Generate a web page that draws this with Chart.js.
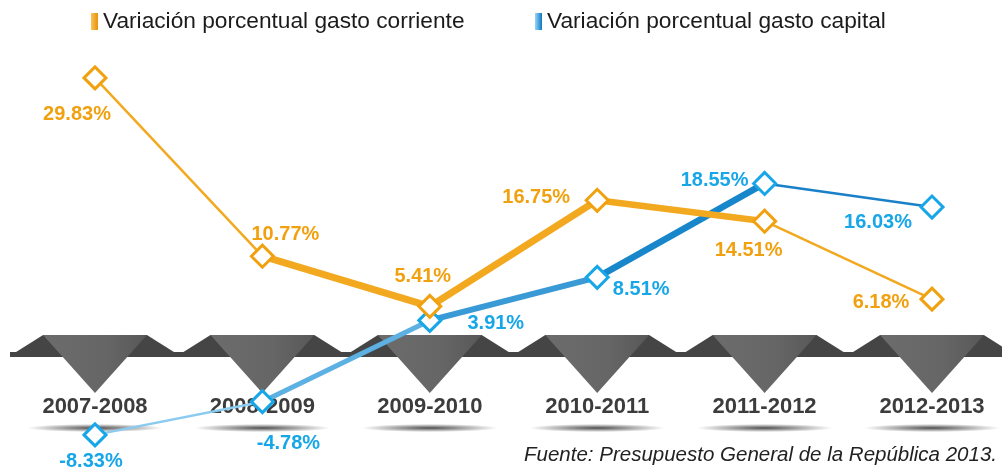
<!DOCTYPE html>
<html>
<head>
<meta charset="utf-8">
<script src="https://cdn.jsdelivr.net/npm/chart.js@4.4.1/dist/chart.umd.min.js"></script>
<style>
  body { margin: 0; background: #fff; }
  #wrap { position: relative; width: 1002px; height: 471px; overflow: hidden; font-family: 'Liberation Sans', Arial, sans-serif; }
  .legend { position: absolute; top: 7px; font-size: 22.7px; color: #1b1b1b; line-height: 27px; white-space: nowrap; }
  .legend .sw { display: inline-block; width: 7px; height: 17px; vertical-align: -2px; margin-right: 5px; }
  #source { position: absolute; right: 5px; top: 442px; font-size: 20.5px; font-style: italic; color: #222; white-space: nowrap; }
</style>
</head>
<body>
<div id="wrap">
  <canvas id="chart"></canvas>
  <div class="legend" style="left:91px"><span class="sw" style="background:linear-gradient(90deg,#f9c35a,#e8920a)"></span>Variación porcentual gasto corriente</div>
  <div class="legend" style="left:535px"><span class="sw" style="background:linear-gradient(90deg,#9ad6f7,#0a78c4)"></span>Variación porcentual gasto capital</div>
  <div id="source">Fuente: Presupuesto General de la República 2013.</div>
</div>
<script>
const periods = ['2007-2008', '2008-2009', '2009-2010', '2010-2011', '2011-2012', '2012-2013'];
const gastoCorriente = [29.83, 10.77, 5.41, 16.75, 14.51, 6.18];
const gastoCapital = [-8.33, -4.78, 3.91, 8.51, 18.55, 16.03];

const orange = '#f1a10f';
const blue = '#17a6e8';

// label offsets from each point, in px
const corrienteOffsets = [[-18, 37], [23, -22], [-7, -30], [-61, -3], [-16, 29], [-51, 3]];
const capitalOffsets = [[-4, 27], [26, 42], [66, 3], [44, 12], [-50, -3], [-54, 15]];

// segment looks
const corrienteWidths = [2.5, 7, 7, 6.5, 2.5];
const capitalWidths = [2.5, 5, 6, 6.5, 2.5];
const capitalColors = ['#8ccbf0', '#5cb0e2', '#3a9ad6', '#1786cb', '#1a80c8'];

const bandPlugin = {
    id: 'band',
    beforeDatasetsDraw(chart) {
        const ctx = chart.ctx;
        const x = chart.scales.x;
        const step = x.getPixelForValue(1) - x.getPixelForValue(0);
        const top = step * 0.31;
        const base = step * 0.5;
        ctx.save();
        ctx.fillStyle = '#454545';
        ctx.fillRect(10, 352, 992, 5);
        periods.forEach((p, i) => {
            const cx = x.getPixelForValue(i);
            ctx.fillStyle = '#454545';
            ctx.beginPath();
            ctx.moveTo(cx - base, 355);
            ctx.lineTo(cx - top, 335);
            ctx.lineTo(cx + top, 335);
            ctx.lineTo(cx + base, 355);
            ctx.closePath();
            ctx.fill();

            const g = ctx.createLinearGradient(cx - top, 0, cx + top, 0);
            g.addColorStop(0, '#6c6c6c');
            g.addColorStop(0.6, '#666');
            g.addColorStop(1, '#585858');
            ctx.fillStyle = g;
            ctx.beginPath();
            ctx.moveTo(cx - top, 335);
            ctx.lineTo(cx + top, 335);
            ctx.lineTo(cx, 393);
            ctx.closePath();
            ctx.fill();

            // soft shadow under the year
            ctx.save();
            ctx.translate(cx, 428);
            ctx.scale(1, 0.06);
            const rg = ctx.createRadialGradient(0, 0, 0, 0, 0, 68);
            rg.addColorStop(0, 'rgba(60,60,60,0.9)');
            rg.addColorStop(1, 'rgba(60,60,60,0)');
            ctx.fillStyle = rg;
            ctx.beginPath();
            ctx.arc(0, 0, 68, 0, Math.PI * 2);
            ctx.fill();
            ctx.restore();

            ctx.fillStyle = '#3c3c3c';
            ctx.font = "bold 22px 'Liberation Sans', Arial, sans-serif";
            ctx.textAlign = 'center';
            ctx.textBaseline = 'middle';
            ctx.fillText(p, cx, 407);
        });
        ctx.restore();
    }
};

const valueLabels = {
    id: 'valueLabels',
    afterDatasetsDraw(chart) {
        const ctx = chart.ctx;
        const sets = [[gastoCorriente, corrienteOffsets, orange], [gastoCapital, capitalOffsets, blue]];
        ctx.save();
        ctx.font = "bold 20px 'Liberation Sans', Arial, sans-serif";
        ctx.textAlign = 'center';
        ctx.textBaseline = 'middle';
        sets.forEach(([vals, offs, col], d) => {
            const meta = chart.getDatasetMeta(d);
            ctx.fillStyle = col;
            meta.data.forEach((pt, i) => {
                ctx.fillText(vals[i].toFixed(2) + '%', pt.x + offs[i][0], pt.y + offs[i][1]);
            });
        });
        ctx.restore();
    }
};

new Chart(document.getElementById('chart'), {
    type: 'line',
    data: {
        labels: periods,
        datasets: [
            {
                label: 'Variación porcentual gasto corriente',
                data: gastoCorriente,
                borderColor: '#f2a920',
                borderWidth: 7,
                segment: { borderWidth: c => corrienteWidths[c.p0DataIndex] },
                pointStyle: 'rectRot',
                pointRadius: 11,
                pointBorderWidth: 3,
                pointBorderColor: orange,
                pointBackgroundColor: '#fff',
                tension: 0,
                clip: false
            },
            {
                label: 'Variación porcentual gasto capital',
                data: gastoCapital,
                borderColor: '#3a9ad6',
                borderWidth: 6,
                segment: {
                    borderWidth: c => capitalWidths[c.p0DataIndex],
                    borderColor: c => capitalColors[c.p0DataIndex]
                },
                pointStyle: 'rectRot',
                pointRadius: 11,
                pointBorderWidth: 3,
                pointBorderColor: blue,
                pointBackgroundColor: '#fff',
                tension: 0,
                clip: false
            }
        ]
    },
    options: {
        responsive: true,
        maintainAspectRatio: false,
        animation: false,
        layout: { autoPadding: false, padding: { left: 95, right: 70, top: 0, bottom: 0 } },
        plugins: { legend: { display: false }, tooltip: { enabled: false } },
        scales: {
            x: { display: false, offset: false },
            y: { display: false, min: -12.19, max: 38.16 }
        }
    },
    plugins: [bandPlugin, valueLabels]
});
</script>
</body>
</html>
